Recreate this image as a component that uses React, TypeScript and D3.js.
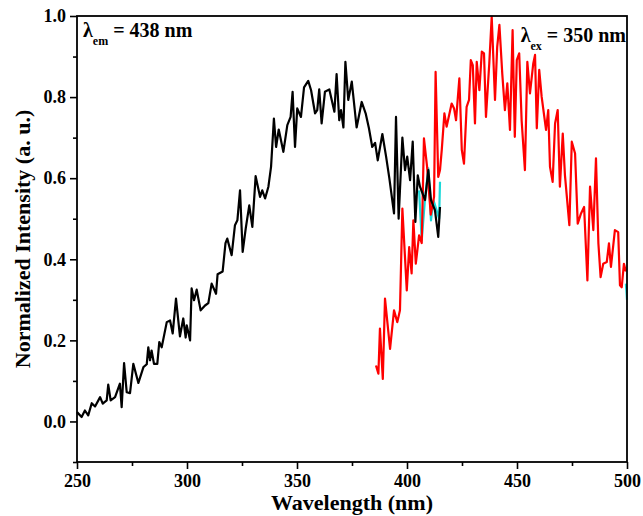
import React, { useEffect, useRef } from "react";
import * as d3 from "d3";

// emission spectrum (black), wavelength nm / normalized intensity
const emWave = [250, 252.1, 253.6, 255.1, 256.7, 258.2, 260.5, 261.7, 263.5, 264.2, 265.3, 267.3, 269.5, 270.3, 271.4, 272.6, 274.1, 275.6, 277.9, 280.2, 281.7, 282.4, 283.2, 283.9, 285, 286.5, 287.4, 288.5, 290.8, 292.3, 293.5, 295, 296.8, 298.3, 299.4, 299.9, 301.4, 302.1, 303.2, 304.4, 306.2, 308.2, 309.7, 311.2, 313.2, 313.9, 316.2, 317.5, 318.3, 320.3, 321.8, 322.9, 324.1, 325.3, 326.7, 328.3, 329.7, 331.2, 333.2, 334.2, 335.5, 337, 338.2, 339.5, 340.5, 341.7, 343.8, 345.6, 347.1, 348, 349.1, 350.1, 351.8, 353.2, 355.1, 356.4, 358.2, 359.2, 360.1, 361.2, 362.7, 364.7, 367, 368, 369.2, 370, 371.1, 372, 373.3, 374.9, 377.1, 379.4, 381.2, 382.7, 384.2, 385.5, 386.7, 388.8, 390.5, 392, 394.1, 395, 396.2, 397.9, 399.1, 400.1, 401.4, 402.6, 403.8, 404.9, 405.9, 408.2, 409.7, 410.9, 412.7, 414.2, 415];
const emValue = [0.023, 0.011, 0.027, 0.015, 0.045, 0.037, 0.06, 0.044, 0.052, 0.091, 0.052, 0.06, 0.093, 0.035, 0.144, 0.072, 0.07, 0.142, 0.095, 0.134, 0.141, 0.183, 0.151, 0.175, 0.142, 0.142, 0.196, 0.183, 0.245, 0.249, 0.217, 0.303, 0.21, 0.254, 0.207, 0.237, 0.2, 0.328, 0.299, 0.325, 0.274, 0.286, 0.292, 0.34, 0.315, 0.363, 0.37, 0.44, 0.451, 0.41, 0.484, 0.496, 0.57, 0.418, 0.476, 0.533, 0.48, 0.605, 0.554, 0.57, 0.55, 0.579, 0.628, 0.747, 0.677, 0.72, 0.665, 0.731, 0.751, 0.813, 0.677, 0.772, 0.751, 0.824, 0.84, 0.817, 0.76, 0.768, 0.819, 0.735, 0.813, 0.819, 0.764, 0.857, 0.743, 0.768, 0.725, 0.887, 0.793, 0.838, 0.725, 0.788, 0.76, 0.723, 0.677, 0.687, 0.644, 0.709, 0.653, 0.599, 0.513, 0.751, 0.5, 0.7, 0.62, 0.653, 0.595, 0.69, 0.492, 0.607, 0.579, 0.546, 0.62, 0.546, 0.521, 0.455, 0.529];

// excitation spectrum (red)
const exWave = [385.9, 387, 387.7, 389, 390, 392.3, 394.1, 395.6, 396.8, 397.9, 399.9, 401, 402.1, 402.9, 404, 405.5, 406.7, 407.7, 409.1, 410.8, 412.3, 413, 414.2, 415, 415.8, 417, 418, 420.3, 421.4, 422.3, 423.8, 424.9, 425.9, 427.1, 428.2, 429, 429.9, 430.9, 431.7, 432.9, 434, 435, 435.9, 437.4, 438.5, 440, 441, 442, 443.3, 444.5, 445.6, 446.8, 448, 449, 449.9, 451, 452.1, 453.6, 454.7, 455.9, 457.4, 458.2, 459, 460.1, 461.2, 463.2, 464.2, 465, 466.2, 467.3, 468.5, 469.5, 470.8, 471.8, 473.8, 474.9, 476.4, 477.6, 479.1, 480.5, 482, 483.2, 484.7, 485.9, 487, 488, 489.2, 490.8, 491.8, 492.7, 494.5, 496, 496.8, 497.6, 498.6, 499.5];
const exValue = [0.138, 0.118, 0.229, 0.105, 0.303, 0.179, 0.274, 0.245, 0.274, 0.525, 0.323, 0.43, 0.365, 0.496, 0.389, 0.459, 0.44, 0.698, 0.63, 0.51, 0.554, 0.862, 0.603, 0.62, 0.67, 0.76, 0.727, 0.784, 0.772, 0.743, 0.846, 0.67, 0.636, 0.776, 0.793, 0.891, 0.879, 0.735, 0.887, 0.817, 0.912, 0.908, 0.751, 0.883, 0.998, 0.793, 0.924, 0.978, 0.858, 0.768, 0.834, 0.719, 0.965, 0.702, 0.891, 0.908, 0.743, 0.62, 0.887, 0.809, 0.883, 0.904, 0.723, 0.867, 0.801, 0.719, 0.768, 0.628, 0.591, 0.735, 0.768, 0.579, 0.71, 0.607, 0.484, 0.69, 0.661, 0.488, 0.513, 0.529, 0.348, 0.579, 0.472, 0.649, 0.439, 0.356, 0.389, 0.393, 0.439, 0.381, 0.472, 0.467, 0.336, 0.331, 0.389, 0.37];

// cyan trace peeking out from under the others
const cyWave = [405.5, 406.7, 408.2, 409.7, 410.9, 412, 413.5, 414.6, 415];
const cyValue = [0.57, 0.447, 0.55, 0.624, 0.496, 0.546, 0.52, 0.5, 0.591];
const cyEndWave = [499.5, 500];
const cyEndValue = [0.34, 0.3];

const xMajor = [250, 300, 350, 400, 450, 500];
const xMinor = [275, 325, 375, 425, 475];
const yMajor = [0, 0.2, 0.4, 0.6, 0.8, 1.0];
const yMinor = [-0.1, 0.1, 0.3, 0.5, 0.7, 0.9];

const W = 643, H = 516;
const margin = { top: 16, right: 16, bottom: 54, left: 77 };
const font = "'Liberation Serif', 'Times New Roman', serif";

function Spectra() {
    const ref = useRef<SVGSVGElement>(null);

    useEffect(() => {
        const svg = d3.select(ref.current);
        svg.selectAll("*").remove();

        const w = W - margin.left - margin.right;
        const h = H - margin.top - margin.bottom;

        const x = d3.scaleLinear().domain([250, 500]).range([0, w]);
        const y = d3.scaleLinear().domain([-0.1, 1.0]).range([h, 0]);

        const g = svg.append("g")
            .attr("transform", `translate(${margin.left},${margin.top})`);

        const line = d3.line<[number, number]>()
            .x(d => x(d[0]))
            .y(d => y(d[1]));

        const zip = (a: number[], b: number[]) => a.map((v, i) => [v, b[i]] as [number, number]);

        const series = [
            { data: zip(cyWave, cyValue), color: "#19d9d9" },
            { data: zip(cyEndWave, cyEndValue), color: "#19d9d9" },
            { data: zip(exWave, exValue), color: "#ff0000" },
            { data: zip(emWave, emValue), color: "#000000" },
        ];

        g.selectAll(".trace")
            .data(series)
            .join("path")
            .attr("class", "trace")
            .attr("d", d => line(d.data))
            .attr("fill", "none")
            .attr("stroke", d => d.color)
            .attr("stroke-width", 2.2)
            .attr("stroke-linejoin", "round");

        // axes
        const xAxis = g.append("g")
            .attr("transform", `translate(0,${h})`)
            .call(d3.axisBottom(x).tickValues(xMajor).tickSize(7).tickPadding(5).tickFormat(d3.format("d")));
        g.append("g")
            .attr("transform", `translate(0,${h})`)
            .call(d3.axisBottom(x).tickValues(xMinor).tickSize(4).tickFormat(() => ""));
        const yAxis = g.append("g")
            .call(d3.axisLeft(y).tickValues(yMajor).tickSize(7).tickPadding(4).tickFormat(d3.format(".1f")));
        g.append("g")
            .call(d3.axisLeft(y).tickValues(yMinor).tickSize(4).tickFormat(() => ""));

        g.selectAll(".domain").remove();
        g.selectAll(".tick line").attr("stroke", "#000").attr("stroke-width", 1.6);
        [xAxis, yAxis].forEach(a => a.selectAll("text")
            .attr("font-family", font)
            .attr("font-weight", "bold")
            .attr("font-size", 18)
            .attr("fill", "#000"));

        // frame
        g.append("rect")
            .attr("width", w)
            .attr("height", h)
            .attr("fill", "none")
            .attr("stroke", "#000")
            .attr("stroke-width", 1.8);

        // axis titles
        svg.append("text")
            .attr("x", margin.left + w / 2)
            .attr("y", 510)
            .attr("text-anchor", "middle")
            .attr("font-family", font)
            .attr("font-weight", "bold")
            .attr("font-size", 22)
            .text("Wavelength (nm)");

        svg.append("text")
            .attr("transform", `translate(30,${margin.top + y(0.45)}) rotate(-90)`)
            .attr("text-anchor", "middle")
            .attr("font-family", font)
            .attr("font-weight", "bold")
            .attr("font-size", 22)
            .text("Normalized Intensity (a. u.)");

        // annotations
        const label = (px: number, py: number, anchor: string, sub: string, rest: string) => {
            const t = svg.append("text")
                .attr("x", px)
                .attr("y", py)
                .attr("text-anchor", anchor)
                .attr("font-family", font)
                .attr("font-weight", "bold")
                .attr("font-size", 20);
            t.append("tspan").text("λ");
            t.append("tspan").attr("font-size", 12).attr("dy", 8).text(sub);
            t.append("tspan").attr("dy", -8).text(" " + rest);
        };
        label(83, 37, "start", "em", "= 438 nm");
        label(626, 42, "end", "ex", "= 350 nm");
    }, []);

    return <svg ref={ref} width={W} height={H} style={{ position: "absolute", left: 0, top: 0, background: "#fff" }} />;
}

export default function App() {
    return <Spectra />;
}
